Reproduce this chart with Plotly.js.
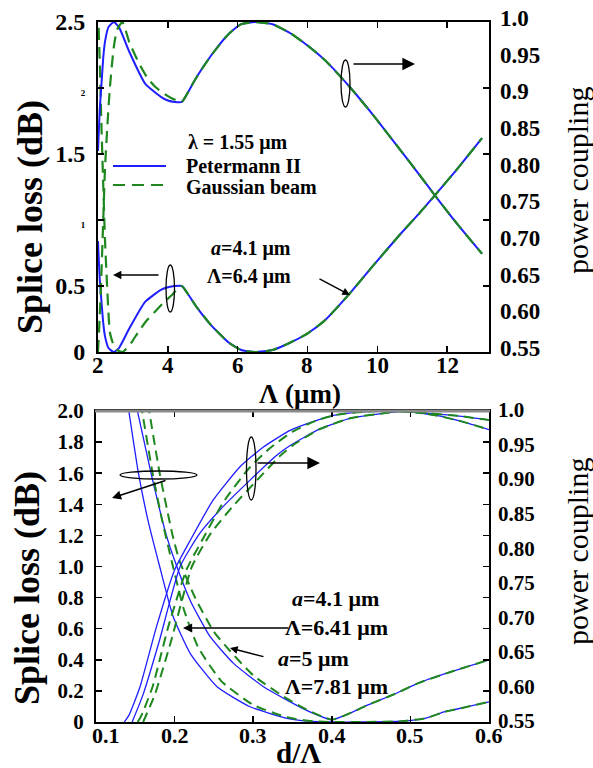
<!DOCTYPE html>
<html><head><meta charset="utf-8">
<script src="https://cdn.plot.ly/plotly-3.0.1.min.js"></script>
<style>html,body{margin:0;padding:0;background:#fff;}#chart{width:593px;height:768px;}</style>
</head><body><div id="chart"></div>
<script>
// ---------- Top panel: splice loss / power coupling vs pitch Λ (μm) ----------
const topX_PII   = [2.0,2.05,2.1,2.15,2.2,2.3,2.45,2.6,2.9,3.35,3.8,4.0,4.2,4.4,4.6,4.8,5.25,5.75,6.1,6.5,7.0,7.5,8.0,8.5,9.2,9.9,10.65,11.2,11.66,12.3,13.0];
const topLoss_PII= [0.84,0.55,0.38,0.22,0.12,0.03,0.0,0.03,0.18,0.38,0.47,0.49,0.5,0.5,0.43,0.35,0.2,0.07,0.015,0.0,0.015,0.07,0.14,0.24,0.44,0.66,0.89,1.05,1.19,1.39,1.62];
const topPow_PII = [0.824,0.881,0.916,0.951,0.973,0.993,1.0,0.993,0.959,0.916,0.898,0.893,0.891,0.891,0.906,0.923,0.955,0.984,0.997,1.0,0.997,0.985,0.968,0.948,0.912,0.872,0.826,0.792,0.763,0.724,0.684];

const topX_GB    = [2.0,2.05,2.1,2.15,2.2,2.27,2.34,2.45,2.55,2.7,2.9,3.15,3.4,3.63,3.9,4.11,4.25,4.4,4.6,4.8,5.25,5.75,6.1,6.5,7.0,7.5,8.0,8.5,9.2,9.9,10.65,11.2,11.66,12.3,13.0];
const topLoss_GB = [2.6,2.2,1.7,1.27,0.85,0.45,0.15,0.05,0.015,0.0,0.05,0.15,0.24,0.305,0.38,0.43,0.47,0.5,0.43,0.35,0.2,0.07,0.015,0.0,0.015,0.07,0.14,0.24,0.44,0.66,0.89,1.05,1.19,1.39,1.62];
const topPow_GB  = [0.55,0.6,0.66,0.73,0.8,0.86,0.91,0.965,0.99,1.0,0.972,0.946,0.925,0.912,0.902,0.896,0.893,0.891,0.906,0.923,0.955,0.984,0.997,1.0,0.997,0.985,0.968,0.948,0.912,0.872,0.826,0.792,0.763,0.724,0.684];

const topXTicks   = [2,4,6,8,10,12];
const topLossTicks= [0,0.5,1,1.5,2,2.5];
const topLossText = ['0','0.5','<span style="font-size:9px">1</span>','1.5','<span style="font-size:9px">2</span>','2.5'];
const powTicks    = [0.55,0.6,0.65,0.7,0.75,0.8,0.85,0.9,0.95,1.0];
const topPowText  = ['0.55','0.60','0.65','0.70','0.75','0.80','0.85','0.9','0.95','1.0'];

// ---------- Bottom panel: vs d/Λ, two fibre designs ----------
// a = 4.1 μm, Λ = 6.41 μm
const botLossX_PII_1 = [0.14,0.154,0.166,0.181,0.198,0.22,0.254,0.296,0.343,0.37,0.40,0.44,0.489,0.52,0.544,0.57,0.6];
const botLoss_PII_1  = [2.06,1.6,1.3,1.0,0.68,0.44,0.227,0.098,0.024,0.006,0.0,0.0,0.005,0.025,0.066,0.095,0.13];
const botLossX_GB_1  = [0.157,0.172,0.184,0.197,0.212,0.23,0.26,0.3,0.343,0.37,0.40,0.44,0.489,0.52,0.544,0.57,0.6];
const botLoss_GB_1   = [2.05,1.6,1.3,1.02,0.72,0.48,0.26,0.11,0.03,0.008,0.0,0.0,0.005,0.025,0.066,0.095,0.13];
const botPowX_PII_1  = [0.136,0.142,0.156,0.177,0.2,0.22,0.249,0.283,0.313,0.347,0.38,0.404,0.43,0.46,0.49,0.52,0.56,0.6];
const botPow_PII_1   = [0.55,0.56,0.601,0.688,0.77,0.813,0.871,0.919,0.948,0.972,0.986,0.994,0.998,1.0,0.999,0.997,0.993,0.987];
const botPowX_GB_1   = [0.153,0.158,0.172,0.192,0.215,0.235,0.262,0.293,0.32,0.35,0.38,0.404,0.43,0.46,0.49,0.52,0.56,0.6];
const botPow_GB_1    = [0.55,0.56,0.601,0.688,0.77,0.813,0.868,0.915,0.945,0.97,0.986,0.994,0.998,1.0,0.999,0.997,0.993,0.987];
// a = 5 μm, Λ = 7.81 μm
const botLossX_PII_2 = [0.151,0.17,0.189,0.2,0.22,0.245,0.275,0.313,0.343,0.37,0.40,0.42,0.446,0.48,0.51,0.55,0.6];
const botLoss_PII_2  = [2.04,1.6,1.21,1.04,0.78,0.55,0.377,0.227,0.141,0.07,0.015,0.05,0.11,0.18,0.25,0.32,0.4];
const botLossX_GB_2  = [0.166,0.181,0.197,0.206,0.226,0.25,0.27,0.3,0.343,0.37,0.40,0.42,0.446,0.48,0.51,0.55,0.6];
const botLoss_GB_2   = [2.05,1.6,1.21,1.04,0.8,0.58,0.46,0.3,0.15,0.075,0.015,0.05,0.11,0.18,0.25,0.32,0.4];
const botPowX_PII_2  = [0.146,0.16,0.18,0.207,0.232,0.262,0.296,0.33,0.347,0.383,0.425,0.468,0.49,0.531,0.565,0.6];
const botPow_PII_2   = [0.55,0.59,0.665,0.775,0.823,0.862,0.9,0.936,0.95,0.973,0.99,0.997,1.0,0.994,0.985,0.973];
const botPowX_GB_2   = [0.16,0.175,0.195,0.222,0.246,0.274,0.305,0.335,0.35,0.383,0.425,0.468,0.49,0.531,0.565,0.6];
const botPow_GB_2    = [0.55,0.59,0.665,0.775,0.823,0.862,0.9,0.936,0.95,0.973,0.99,0.997,1.0,0.994,0.985,0.973];

const botXTicks    = [0.1,0.2,0.3,0.4,0.5,0.6];
const botXText     = ['0.1','0.2','0.3','0.4','0.5','0.6'];
const botLossTicks = [0,0.2,0.4,0.6,0.8,1.0,1.2,1.4,1.6,1.8,2.0];
const botLossText  = ['0','0.2','0.4','0.6','0.8','1.0','1.2','1.4','1.6','1.8','2.0'];
const botPowText   = ['0.55','0.60','0.65','0.70','0.75','0.80','0.85','0.90','0.95','1.0'];

// ---------- styling ----------
const BLUE='rgb(30,30,255)', GREEN='rgb(30,135,30)';
const F='"Liberation Serif","Times New Roman",serif';
const W=593, H=768;
const px=v=>v/W, py=v=>1-v/H;

function ln(x,y,xa,ya,color,width,dash){
  return {x:x,y:y,xaxis:xa,yaxis:ya,type:'scatter',mode:'lines',hoverinfo:'skip',
    line:{color:color,width:width,dash:dash||'solid',shape:'spline',smoothing:0.5}};
}
const D1='12px,7px', D2='10px,6px';
const traces=[
  ln(topX_PII,topLoss_PII,'x','y',BLUE,2),
  ln(topX_PII,topPow_PII,'x','y2',BLUE,2),
  ln(topX_GB,topLoss_GB,'x','y',GREEN,2.2,D1),
  ln(topX_GB,topPow_GB,'x','y2',GREEN,2.2,D1),
  ln(botLossX_PII_1,botLoss_PII_1,'x2','y3',BLUE,1.3),
  ln(botLossX_PII_2,botLoss_PII_2,'x2','y3',BLUE,1.3),
  ln(botPowX_PII_1,botPow_PII_1,'x2','y4',BLUE,1.3),
  ln(botPowX_PII_2,botPow_PII_2,'x2','y4',BLUE,1.3),
  ln(botLossX_GB_1,botLoss_GB_1,'x2','y3',GREEN,2,D2),
  ln(botLossX_GB_2,botLoss_GB_2,'x2','y3',GREEN,2,D2),
  ln(botPowX_GB_1,botPow_GB_1,'x2','y4',GREEN,2,D2),
  ln(botPowX_GB_2,botPow_GB_2,'x2','y4',GREEN,2,D2)
];

const tickFont={family:F,size:24,color:'#000',weight:'bold'};
const tickFontB={family:F,size:21,color:'#000',weight:'bold'};
const baseAx={showgrid:false,zeroline:false,showline:true,linecolor:'#000',linewidth:2,
  ticks:'inside',ticklen:6,tickwidth:1.5,tickcolor:'#000',mirror:'ticks',fixedrange:true};

const layout={
  width:W,height:H,margin:{l:0,r:0,t:0,b:0},showlegend:false,
  paper_bgcolor:'#fff',plot_bgcolor:'#fff',font:{family:F,color:'#000'},
  xaxis:Object.assign({},baseAx,{domain:[px(98),px(489)],anchor:'y',range:[2,13.2],
    tickvals:topXTicks,showticklabels:false}),
  yaxis:Object.assign({},baseAx,{domain:[py(352),py(22)],anchor:'x',range:[0,2.5],
    tickvals:topLossTicks,ticktext:topLossText,tickfont:tickFont,ticklabelstandoff:6}),
  yaxis2:{overlaying:'y',side:'right',anchor:'x',range:[0.55,1.0],tickvals:powTicks,ticktext:topPowText,
    showgrid:false,zeroline:false,showline:false,ticks:'',tickfont:{family:F,size:23,color:'#000',weight:'bold'},
    ticklabelstandoff:10,ticklabelshift:-4,fixedrange:true},
  xaxis2:Object.assign({},baseAx,{domain:[px(96),px(489)],anchor:'y3',range:[0.1,0.6],
    tickvals:botXTicks,showticklabels:false}),
  yaxis3:Object.assign({},baseAx,{domain:[py(722),py(411)],anchor:'x2',range:[0,2.0],
    tickvals:botLossTicks,ticktext:botLossText,tickfont:tickFontB,ticklabelstandoff:6}),
  yaxis4:{overlaying:'y3',side:'right',anchor:'x2',range:[0.55,1.0],tickvals:powTicks,ticktext:botPowText,
    showgrid:false,zeroline:false,showline:false,ticks:'',tickfont:tickFontB,ticklabelstandoff:8,ticklabelshift:-1,fixedrange:true},
  shapes:[
    // legend samples
    {type:'line',xref:'paper',yref:'paper',x0:px(113),x1:px(166),y0:py(166),y1:py(166),line:{color:BLUE,width:2}},
    {type:'line',xref:'paper',yref:'paper',x0:px(113),x1:px(166),y0:py(185),y1:py(185),line:{color:GREEN,width:2.2,dash:'12px,7px'}},
    // ellipses top
    {type:'circle',xref:'paper',yref:'paper',x0:px(166),x1:px(174.5),y0:py(312),y1:py(265),line:{color:'#000',width:1.3}},
    {type:'circle',xref:'paper',yref:'paper',x0:px(341),x1:px(350),y0:py(107),y1:py(60),line:{color:'#000',width:1.3}},
    // ellipses bottom
    {type:'circle',xref:'paper',yref:'paper',x0:px(120),x1:px(197),y0:py(479),y1:py(471),line:{color:'#000',width:1.3}},
    {type:'circle',xref:'paper',yref:'paper',x0:px(246.5),x1:px(256),y0:py(500),y1:py(437),line:{color:'#000',width:1.3}},
    // gray top frame of bottom panel
    {type:'line',xref:'paper',yref:'paper',x0:px(95),x1:px(490),y0:py(411),y1:py(411),line:{color:'#8a8a8a',width:3}}
  ],
  annotations:[]
};

const A=layout.annotations;
function txt(t,x,y,size,opts){A.push(Object.assign({text:t,xref:'paper',yref:'paper',x:px(x),y:py(y),showarrow:false,
  xanchor:'center',yanchor:'middle',font:{family:F,size:size,color:'#000',weight:'bold'}},opts||{}));}
function arrow(hx,hy,tx,ty,size){A.push({text:'',xref:'paper',yref:'paper',x:px(hx),y:py(hy),ax:tx-hx,ay:ty-hy,
  showarrow:true,arrowhead:2,arrowsize:size||1,arrowwidth:1.4,arrowcolor:'#000'});}

// x tick labels (placed just under each axis)
topXTicks.forEach(v=>A.push({text:String(v),xref:'x',yref:'paper',x:v,y:py(365),showarrow:false,
  xanchor:'center',yanchor:'middle',font:{family:F,size:23,color:'#000',weight:'bold'}}));
botXTicks.forEach((v,i)=>A.push({text:botXText[i],xref:'x2',yref:'paper',x:v,y:py(735),showarrow:false,
  xanchor:'center',yanchor:'middle',xshift:(i===0?10:0),font:{family:F,size:22,color:'#000',weight:'bold'}}));

// axis titles
txt('Splice loss (dB)',30,217,36,{textangle:-90});
txt('Splice loss (dB)',27,588,36,{textangle:-90});
A.push({text:'power coupling',xref:'paper',yref:'paper',x:px(577),y:py(181),showarrow:false,textangle:-90,
  xanchor:'center',yanchor:'middle',font:{family:F,size:30,color:'#000'}});
A.push({text:'power coupling',xref:'paper',yref:'paper',x:px(577),y:py(552),showarrow:false,textangle:-90,
  xanchor:'center',yanchor:'middle',font:{family:F,size:30,color:'#000'}});
txt('Λ (μm)',300,394,27);
txt('d/Λ',298,753,29);

// top panel labels
txt('λ = 1.55 μm',238,143,20);
txt('Petermann II',184,166,20,{xanchor:'left'});
txt('Gaussian beam',184,187,20,{xanchor:'left'});
txt('<i>a</i>=4.1 μm',209,248,20,{xanchor:'left'});
txt('Λ=6.4 μm',205,276,20,{xanchor:'left'});
arrow(113,275,160,275,1.2);
arrow(415,64,352,64,1.8);
arrow(350,295,318,278,1.1);

// bottom panel labels
txt('<i>a</i>=4.1 μm',290,598,22,{xanchor:'left'});
txt('Λ=6.41 μm',283,627,22,{xanchor:'left'});
txt('<i>a</i>=5 μm',276,658,22,{xanchor:'left'});
txt('Λ=7.81 μm',283,686,22,{xanchor:'left'});
arrow(112,498,167,480,1.3);
arrow(320,463,256,463,1.8);
arrow(183,628,290,628,1.3);
arrow(230,648,265,657,1.1);

Plotly.newPlot('chart',traces,layout,{staticPlot:true,displayModeBar:false});
</script></body></html>
